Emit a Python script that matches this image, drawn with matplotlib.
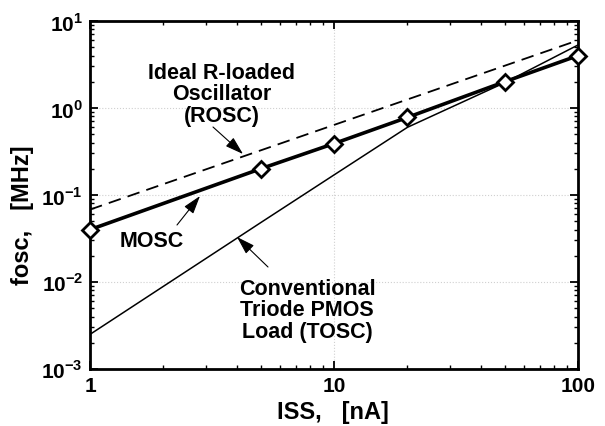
import matplotlib
matplotlib.use("Agg")
import matplotlib.pyplot as plt
from matplotlib.ticker import FixedLocator, FixedFormatter, LogLocator, NullFormatter

plt.rcParams['font.family'] = ['Liberation Sans', 'DejaVu Sans']
plt.rcParams['font.weight'] = 'bold'
plt.rcParams['mathtext.fontset'] = 'custom'
plt.rcParams['mathtext.rm'] = 'Liberation Sans:bold'
plt.rcParams['mathtext.bf'] = 'Liberation Sans:bold'

# data
iss = [1, 5, 10, 20, 50, 100]
mosc = [0.04, 0.2, 0.39, 0.78, 2.0, 4.0]
tosc = [0.0025, 0.048, 0.17, 0.6, 1.95, 5.3]
rosc_x = [1, 100]
rosc = [0.068, 6.0]

xticks = [1, 10, 100]
xlabels = ['1', '10', '100']
yticks = [1e-3, 1e-2, 1e-1, 1e0, 1e1]
ylabels = [r'$10^{-3}$', r'$10^{-2}$', r'$10^{-1}$', r'$10^{0}$', r'$10^{1}$']

W, H = 605, 427
def px(x, y):
    return (x / W, 1 - y / H)

fig = plt.figure(figsize=(6.05, 4.27), dpi=100)
ax = fig.add_axes([90/W, 1-370/H, 488/W, 348/H])

ax.plot(rosc_x, rosc, 'k--', lw=1.3, dashes=(7, 4))
ax.plot(iss, tosc, 'k-', lw=1.1)
ax.plot(iss, mosc, 'k-', lw=2.6, marker='D', ms=8, mfc='white', mec='black', mew=2,
        clip_on=False, zorder=5)

ax.set_xscale('log')
ax.set_yscale('log')
ax.set_xlim(1, 100)
ax.set_ylim(1e-3, 1e1)

ax.xaxis.set_major_locator(FixedLocator(xticks))
ax.xaxis.set_major_formatter(FixedFormatter(xlabels))
ax.yaxis.set_major_locator(FixedLocator(yticks))
ax.yaxis.set_major_formatter(FixedFormatter(ylabels))
ax.xaxis.set_minor_locator(LogLocator(base=10, subs=range(2, 10)))
ax.yaxis.set_minor_locator(LogLocator(base=10, subs=range(2, 10)))
ax.xaxis.set_minor_formatter(NullFormatter())
ax.yaxis.set_minor_formatter(NullFormatter())

ax.tick_params(which='both', direction='in', top=True, right=True)
ax.tick_params(which='major', length=6, width=1.3, labelsize=15, pad=5)
ax.tick_params(which='minor', length=3, width=1)
for s in ax.spines.values():
    s.set_linewidth(2)

ax.grid(which='major', color='#d0d0d0', ls=':', lw=0.8)

fig.text(*px(333, 413), 'ISS,   [nA]', fontsize=17, fontweight='bold', ha='center', va='center')
fig.text(*px(23, 215), 'fosc,   [MHz]', fontsize=17, fontweight='bold', ha='center', va='center',
         rotation=90)

arr = dict(arrowstyle='-|>,head_length=0.7,head_width=0.22', color='black', lw=0.8,
           mutation_scale=16, shrinkA=0, shrinkB=0)
fs = 15.5
fig.text(*px(222, 95), 'Ideal R-loaded\nOscillator\n(ROSC)', ha='center', va='center',
         fontsize=fs, fontweight='bold', linespacing=1.05)
ax.annotate('', xy=px(243, 155), xytext=px(213, 128), xycoords='figure fraction',
            textcoords='figure fraction', arrowprops=arr)
fig.text(*px(152, 242), 'MOSC', ha='center', va='center', fontsize=fs, fontweight='bold')
ax.annotate('', xy=px(200, 197), xytext=px(177, 226), xycoords='figure fraction',
            textcoords='figure fraction', arrowprops=arr)
fig.text(*px(307, 311), 'Conventional\nTriode PMOS\nLoad (TOSC)', ha='center', va='center',
         fontsize=fs, fontweight='bold', linespacing=1.05)
ax.annotate('', xy=px(237, 238), xytext=px(268, 268), xycoords='figure fraction',
            textcoords='figure fraction', arrowprops=arr)

fig.savefig('out.png', dpi=100)
